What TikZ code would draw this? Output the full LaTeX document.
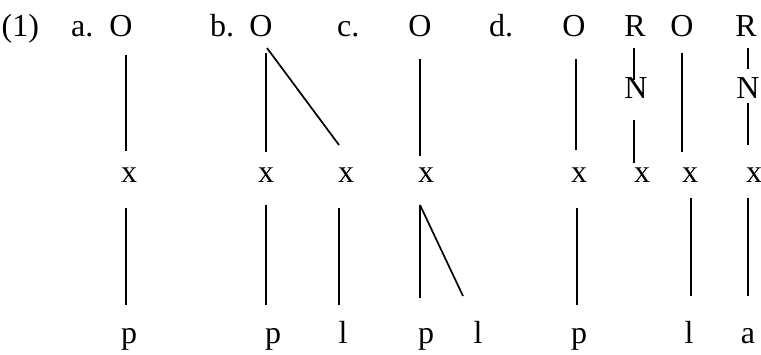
\documentclass[tikz,border=0pt]{standalone}
\usepackage{fontspec}
\setmainfont{Liberation Serif}
\tikzset{
  lbl/.style={inner sep=0pt, anchor=base, font=\fontsize{32}{38}\selectfont},
  lblw/.style={lbl, anchor=base west},
  assoc/.style={line width=1.7pt}
}
\begin{document}
\begin{tikzpicture}[x=1pt,y=-1pt]
\useasboundingbox (0,0) rectangle (761,354);
% top row
\node[lblw] (num) at (1.5,36) {(1)};
\node[lblw] (la) at (71,36) {a.};
\node[lblw] (lb) at (210,36) {b.};
\node[lblw] (lc) at (337,36) {c.};
\node[lblw] (ld) at (489,36) {d.};
\node[lbl] (Oa) at (121,36) {O};
\node[lbl] (Ob) at (261,36) {O};
\node[lbl] (Oc) at (420,36) {O};
\node[lbl] (Od) at (574,36) {O};
\node[lbl] (R1) at (635,36) {R};
\node[lbl] (O2) at (682,36) {O};
\node[lbl] (R2) at (746,36) {R};
% N row
\node[lbl] (N1) at (636,98) {N};
\node[lbl] (N2) at (748,98) {N};
% x row
\node[lbl] (xa) at (129,182) {x};
\node[lbl] (xb1) at (266,182) {x};
\node[lbl] (xb2) at (346,182) {x};
\node[lbl] (xc) at (426,182) {x};
\node[lbl] (xd) at (579,182) {x};
\node[lbl] (xR1) at (642,182) {x};
\node[lbl] (xO2) at (690,182) {x};
\node[lbl] (xR2) at (754,182) {x};
% segment row
\node[lbl] (pa) at (129,343) {p};
\node[lbl] (pb) at (273,343) {p};
\node[lbl] (lbb) at (343,343) {l};
\node[lbl] (pc) at (426,343) {p};
\node[lbl] (lcc) at (478,343) {l};
\node[lbl] (pd) at (579,343) {p};
\node[lbl] (lO2) at (689,343) {l};
\node[lbl] (aR2) at (748,343) {a};
% line end points
\coordinate (a1t) at (126,55);  \coordinate (a1b) at (126,151);
\coordinate (a2t) at (126,208); \coordinate (a2b) at (126,305);
\coordinate (b1t) at (266,53);  \coordinate (b1b) at (266,152);
\coordinate (b2t) at (267,48);  \coordinate (b2b) at (339,145);
\coordinate (b3t) at (266,205); \coordinate (b3b) at (266,305);
\coordinate (b4t) at (339,208); \coordinate (b4b) at (339,305);
\coordinate (c1t) at (420,59);  \coordinate (c1b) at (420,156);
\coordinate (c2t) at (420,205); \coordinate (c2b) at (420,298);
\coordinate (c3b) at (463,296);
\coordinate (d1t) at (576,59);  \coordinate (d1b) at (576,150);
\coordinate (d2t) at (577,208); \coordinate (d2b) at (577,305);
\coordinate (r1t) at (634,48);  \coordinate (r1b) at (634,80);
\coordinate (r2t) at (634,120); \coordinate (r2b) at (634,163);
\coordinate (o1t) at (682,53);  \coordinate (o1b) at (682,152);
\coordinate (o2t) at (691,198); \coordinate (o2b) at (691,296);
\coordinate (s1t) at (748,48);  \coordinate (s1b) at (748,69);
\coordinate (s2t) at (748,103); \coordinate (s2b) at (748,145);
\coordinate (s3t) at (748,198); \coordinate (s3b) at (748,296);
% association lines
\draw[assoc] (a1t) -- (a1b);
\draw[assoc] (a2t) -- (a2b);
\draw[assoc] (b1t) -- (b1b);
\draw[assoc] (b2t) -- (b2b);
\draw[assoc] (b3t) -- (b3b);
\draw[assoc] (b4t) -- (b4b);
\draw[assoc] (c1t) -- (c1b);
\draw[assoc] (c2t) -- (c2b);
\draw[assoc] (c2t) -- (c3b);
\draw[assoc] (d1t) -- (d1b);
\draw[assoc] (d2t) -- (d2b);
\draw[assoc] (r1t) -- (r1b);
\draw[assoc] (r2t) -- (r2b);
\draw[assoc] (o1t) -- (o1b);
\draw[assoc] (o2t) -- (o2b);
\draw[assoc] (s1t) -- (s1b);
\draw[assoc] (s2t) -- (s2b);
\draw[assoc] (s3t) -- (s3b);
\end{tikzpicture}
\end{document}
